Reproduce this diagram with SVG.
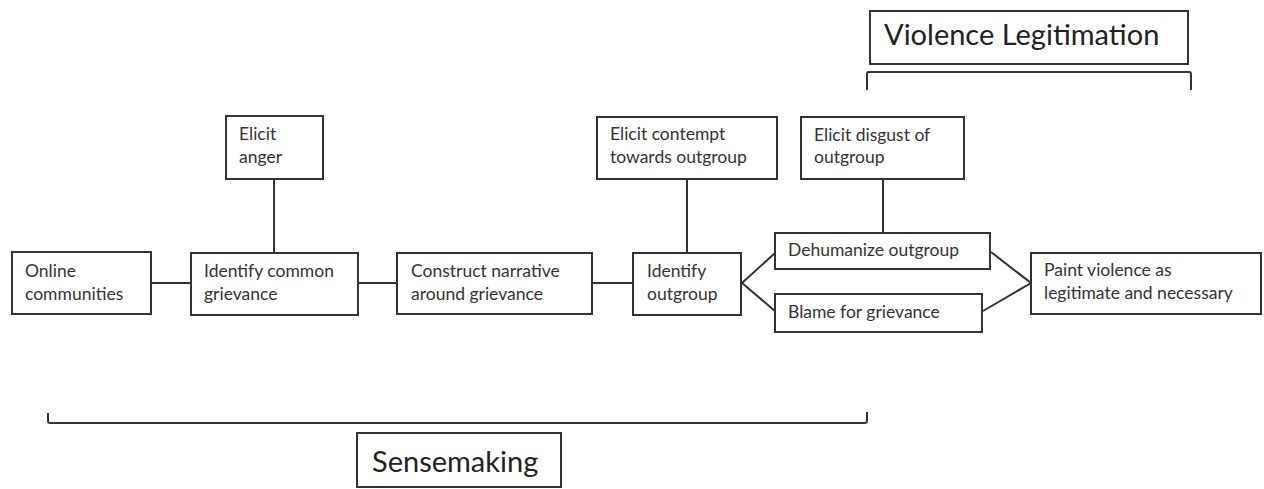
<svg xmlns="http://www.w3.org/2000/svg" width="1264" height="489" viewBox="0 0 1264 489">
<style>
.box{fill:#fff;stroke:#333;stroke-width:2}
.t{font-family:Lato,"Open Sans","Liberation Sans",sans-serif;font-size:17.5px;fill:#333}
.big{font-family:Lato,"Open Sans","Liberation Sans",sans-serif;font-size:29px;fill:#222}
.ln{fill:none;stroke:#333;stroke-width:2}
</style>
<rect width="1264" height="489" fill="#fff"/>
<g id="connectors">
<line class="ln" x1="151" y1="283" x2="191" y2="283"/>
<line class="ln" x1="358" y1="283" x2="397" y2="283"/>
<line class="ln" x1="592" y1="283" x2="633" y2="283"/>
<line class="ln" x1="274" y1="179" x2="274" y2="253"/>
<line class="ln" x1="687" y1="179" x2="687" y2="253"/>
<line class="ln" x1="883" y1="179" x2="883" y2="233"/>
<polyline class="ln" points="775,253 742,283 775,311"/>
<polyline class="ln" points="991,252 1031,283 983,311"/>
</g>
<g id="n-online"><rect class="box" x="12" y="252" width="139" height="62"/><text class="t" x="25" y="277">Online</text><text class="t" x="25" y="300">communities</text></g>
<g id="n-anger"><rect class="box" x="226" y="116" width="97" height="63"/><text class="t" x="239" y="140">Elicit</text><text class="t" x="239" y="163">anger</text></g>
<g id="n-grievance"><rect class="box" x="191" y="253" width="167" height="62"/><text class="t" x="204" y="277">Identify common</text><text class="t" x="204" y="300">grievance</text></g>
<g id="n-narrative"><rect class="box" x="397" y="253" width="195" height="61"/><text class="t" x="411" y="277">Construct narrative</text><text class="t" x="411" y="300">around grievance</text></g>
<g id="n-outgroup"><rect class="box" x="633" y="253" width="108" height="62"/><text class="t" x="647" y="277">Identify</text><text class="t" x="647" y="300">outgroup</text></g>
<g id="n-contempt"><rect class="box" x="597" y="117" width="180" height="62"/><text class="t" x="610" y="140">Elicit contempt</text><text class="t" x="610" y="163">towards outgroup</text></g>
<g id="n-disgust"><rect class="box" x="801" y="117" width="163" height="62"/><text class="t" x="814" y="141">Elicit disgust of</text><text class="t" x="814" y="163">outgroup</text></g>
<g id="n-dehumanize"><rect class="box" x="775" y="233" width="215" height="36"/><text class="t" x="788" y="256">Dehumanize outgroup</text></g>
<g id="n-blame"><rect class="box" x="775" y="294" width="207" height="38"/><text class="t" x="788" y="318">Blame for grievance</text></g>
<g id="n-paint"><rect class="box" x="1031" y="253" width="230" height="61"/><text class="t" x="1044" y="276">Paint violence as</text><text class="t" x="1044" y="299">legitimate and necessary</text></g>
<g id="violence-legitimation"><rect class="box" x="870" y="11" width="318" height="53"/><text class="big" x="884" y="45">Violence Legitimation</text><path class="ln" d="M867,90 V74 Q867,72 869,72 H1189 Q1191,72 1191,74 V90"/></g>
<g id="sensemaking"><rect class="box" x="357" y="433" width="204" height="54"/><text class="big" x="372" y="472">Sensemaking</text><path class="ln" d="M48,413 V421 Q48,423 50,423 H865 Q867,423 867,421 V412"/></g>
</svg>
